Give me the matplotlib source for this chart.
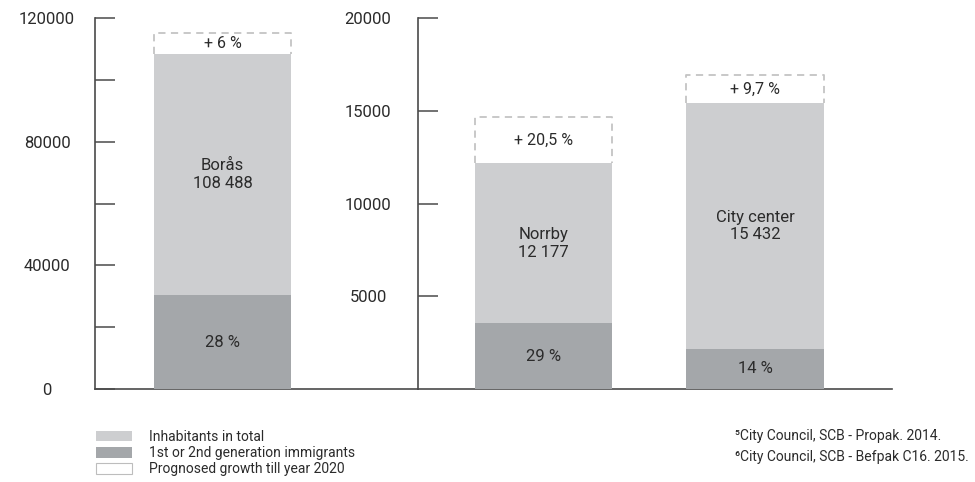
import matplotlib.pyplot as plt
from matplotlib.patches import Patch
from matplotlib.font_manager import fontManager

names = ["Borås", "Norrby", "City center"]
totals = [108488, 12177, 15432]
immigrant_pct = [28, 29, 14]
growth_pct = [6, 20.5, 9.7]

left_ticks = [0, 20000, 40000, 60000, 80000, 100000, 120000]
left_labels = ["0", "", "40000", "", "80000", "", "120000"]
right_ticks = [5000, 10000, 15000, 20000]
right_labels = ["5000", "10000", "15000", "20000"]

legend_labels = ["Inhabitants in total",
                 "1st or 2nd generation immigrants",
                 "Prognosed growth till year 2020"]
notes = ["\u2075City Council, SCB - Propak. 2014.",
         "\u2076City Council, SCB - Befpak C16. 2015."]

light = "#cdced0"
dark = "#a4a7aa"
dash_col = "#c4c4c4"
txt = "#2b2b2b"
spine_col = "#4a4a4a"

plt.rcParams['font.family'] = ['Roboto', 'DejaVu Sans']
installed = {f.name for f in fontManager.ttflist}
narrow = 'Liberation Sans Narrow' if 'Liberation Sans Narrow' in installed else 'Roboto'


def fmt_num(v):
    return f"{v:,}".replace(",", " ")


def fmt_pct(v):
    s = f"{v:g}".replace(".", ",")
    return f"+ {s} %"


def draw_bars(ax, idx, xs):
    w = 1.0
    for i, x in zip(idx, xs):
        tot = totals[i]
        imm = tot * immigrant_pct[i] / 100
        grow = tot * growth_pct[i] / 100
        # prognosed growth: open dashed box sitting on the total
        ax.bar(x, grow, bottom=tot, width=w, color="white", zorder=1)
        ax.plot([x - w / 2, x - w / 2, x + w / 2, x + w / 2],
                [tot, tot + grow, tot + grow, tot], color=dash_col,
                linewidth=1.3, linestyle=(0, (4, 3)), zorder=1)
        ax.bar(x, tot, width=w, color=light, zorder=2)
        ax.bar(x, imm, width=w, color=dark, zorder=3)
        ax.text(x, (imm + tot) / 2, f"{names[i]}\n{fmt_num(tot)}", ha="center",
                va="center", fontsize=12, color=txt, zorder=4, linespacing=1.2)
        ax.text(x, imm / 2, f"{immigrant_pct[i]} %", ha="center", va="center",
                fontsize=12, color=txt, zorder=4)
        ax.text(x, tot + grow / 2, fmt_pct(growth_pct[i]), ha="center",
                va="center", fontsize=11.5, color=txt, zorder=4)


def style_axis(ax, ticks, labels, pad):
    for s in ["top", "right"]:
        ax.spines[s].set_visible(False)
    for s in ["left", "bottom"]:
        ax.spines[s].set_color(spine_col)
        ax.spines[s].set_linewidth(1.2)
    ax.set_xticks([])
    ax.set_yticks(ticks)
    ax.set_yticklabels(labels, ha="center")
    ax.tick_params(axis="y", direction="in", length=14.5, width=1.1,
                   color=spine_col, pad=pad, labelsize=12, labelcolor=txt)


fig = plt.figure(figsize=(9.75, 4.82), dpi=100)

bot = 1 - 389 / 482
hgt = (389 - 18) / 482
ax1 = fig.add_axes([95 / 975, bot, (418 - 95) / 975, hgt])
ax2 = fig.add_axes([418 / 975, bot, (892 - 418) / 975, hgt])

draw_bars(ax1, [0], [0])
ax1.set_xlim(-0.931, 1.427)
ax1.set_ylim(0, 120000)
style_axis(ax1, left_ticks, left_labels, 34.5)

draw_bars(ax2, [1, 2], [0, 1.54])
ax2.set_xlim(-0.913, 2.535)
ax2.set_ylim(0, 20000)
style_axis(ax2, right_ticks, right_labels, 36)

handles = [Patch(facecolor=light, edgecolor="none"),
           Patch(facecolor=dark, edgecolor="none"),
           Patch(facecolor="white", edgecolor="#bdbdbd", linewidth=0.8)]
fig.legend(handles, legend_labels, loc="upper left",
           bbox_to_anchor=(96 / 975, 1 - 430 / 482), frameon=False,
           borderpad=0, borderaxespad=0, handlelength=2.6, handleheight=0.8,
           handletextpad=1.2, labelspacing=0.15,
           prop={"family": narrow, "size": 10}, labelcolor=txt)

fig.text(735 / 975, 1 - 436 / 482, notes[0], ha="left", va="center",
         fontsize=10, family=narrow, color=txt)
fig.text(735 / 975, 1 - 457 / 482, notes[1], ha="left", va="center",
         fontsize=10, family=narrow, color=txt)

fig.savefig("out.png", dpi=100)
